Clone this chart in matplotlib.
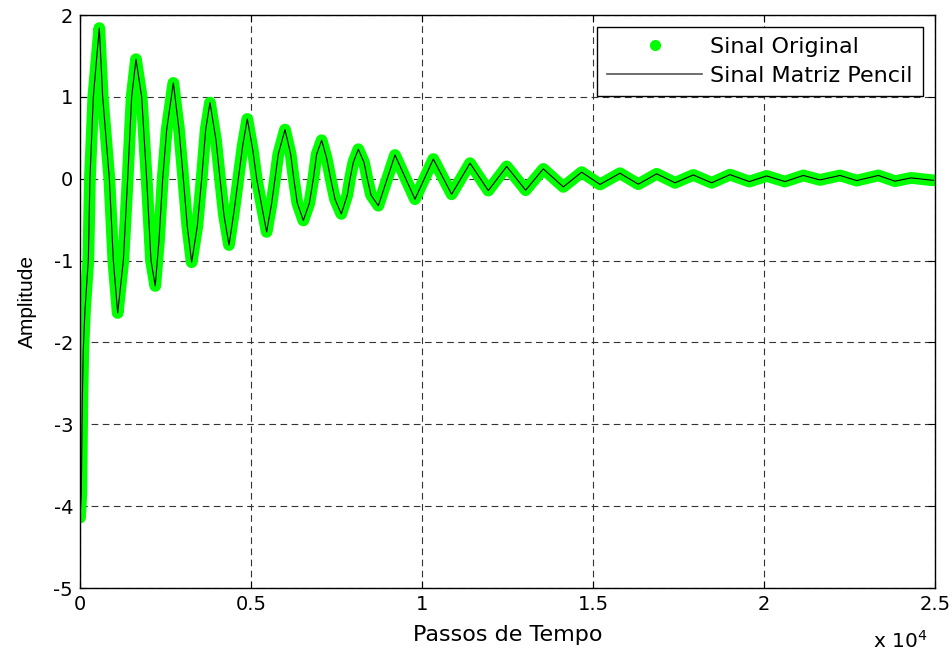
import numpy as np
import matplotlib.pyplot as plt
from matplotlib.lines import Line2D

passos = [0, 38, 67, 96, 146, 244, 290, 390, 507, 565,
          663, 858, 975, 1102, 1267, 1394, 1511, 1637, 1803, 1949,
          2076, 2200, 2310, 2418, 2535, 2729, 2895, 3021, 3137, 3265,
          3430, 3558, 3675, 3801, 3977, 4094, 4211, 4357, 4503, 4629,
          4756, 4892, 5049, 5166, 5312, 5458, 5604, 5702, 5798, 5994,
          6160, 6250, 6355, 6530, 6706, 6823, 6920, 7066, 7212, 7329,
          7456, 7640, 7816, 7895, 7992, 8138, 8304, 8401, 8509, 8723,
          9210, 9795, 10331, 10867, 11404,
          11939, 12476, 13031, 13547, 14132, 14669, 15205, 15789, 16325, 16862,
          17398, 17933, 18470, 19006, 19570, 20077, 20614, 21149, 21637, 22222,
          22710, 23343, 23830, 24300, 24950]
sinal_original = [-4.14, -3.84, -2.74, -2.09, -1.60, -0.99, 0.0, 1.0, 1.57, 1.84,
                  1.0, 0.0, -1.0, -1.64, -1.0, 0.0, 1.0, 1.46, 1.0, 0.0,
                  -1.0, -1.31, -0.75, 0.0, 0.6, 1.17, 0.6, 0.0, -0.58, -1.02,
                  -0.58, 0.0, 0.6, 0.93, 0.47, 0.0, -0.45, -0.81, -0.4, 0.0,
                  0.4, 0.73, 0.36, 0.0, -0.33, -0.65, -0.3, 0.0, 0.3, 0.60,
                  0.3, 0.0, -0.3, -0.51, -0.3, 0.0, 0.3, 0.47, 0.25, 0.0,
                  -0.25, -0.43, -0.2, 0.0, 0.2, 0.36, 0.2, 0.0, -0.2, -0.33,
                  0.29, -0.25, 0.24, -0.19, 0.19,
                  -0.145, 0.15, -0.14, 0.12, -0.10, 0.08, -0.07, 0.067, -0.067, 0.06,
                  -0.05, 0.046, -0.05, 0.05, -0.035, 0.034, -0.035, 0.04, -0.015, 0.04,
                  -0.023, 0.04, -0.03, 0.01, -0.02]
# reconstrucao pelo metodo Matrix Pencil (coincide com o original)
sinal_pencil = list(sinal_original)

xticks = [0, 5000, 10000, 15000, 20000, 25000]
xticklabels = ['0', '0.5', '1', '1.5', '2', '2.5']
yticks = [-5, -4, -3, -2, -1, 0, 1, 2]

verde = '#00ff00'

plt.rcParams['font.family'] = 'DejaVu Sans'
plt.rcParams['axes.unicode_minus'] = False
fig = plt.figure(figsize=(9.53, 6.55), dpi=100)
ax = fig.add_axes([80/953, 1 - 588/655, 855/953, 573/655])

ax.plot(passos, sinal_original, color=verde, lw=8.5,
        solid_joinstyle='round', solid_capstyle='round', zorder=2)
ax.plot(passos, sinal_pencil, color='black', lw=0.8, zorder=3)

ax.set_xlim(0, 25000)
ax.set_ylim(-5, 2)
ax.set_xticks(xticks)
ax.set_xticklabels(xticklabels)
ax.set_yticks(yticks)
ax.tick_params(direction='in', top=True, right=True, labelsize=14,
               length=5, width=0.8, pad=5)
ax.grid(True, color='#333333', linestyle=(0, (6, 4)), linewidth=0.8)
for s in ax.spines.values():
    s.set_linewidth(1.0)

ax.set_xlabel('Passos de Tempo', fontsize=16, labelpad=8)
ax.set_ylabel('Amplitude', fontsize=15, family='Liberation Sans', labelpad=12)
fig.text(873/953, 1 - 641/655, r'x 10$^{4}$', fontsize=14.5, va='center')

handles = [Line2D([], [], marker='o', color=verde, linestyle='none', markersize=7),
           Line2D([], [], color='#555555', lw=1.2)]
leg = ax.legend(handles, ['Sinal Original', 'Sinal Matriz Pencil'],
                loc='upper right', fontsize=16, fancybox=False,
                edgecolor='black', framealpha=1, handlelength=4.3,
                handletextpad=0.35, borderpad=0.45, labelspacing=0.38,
                borderaxespad=0.55)
leg.get_frame().set_linewidth(1.0)

fig.savefig('out.png', dpi=100)
